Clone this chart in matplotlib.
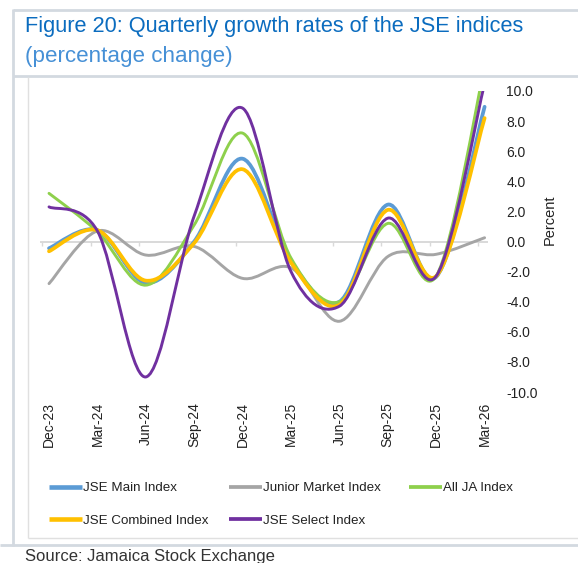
import numpy as np
import matplotlib
matplotlib.use("Agg")
import matplotlib.pyplot as plt
from matplotlib.path import Path
from matplotlib.patches import PathPatch
from matplotlib.lines import Line2D
import matplotlib.transforms as mtransforms

plt.rcParams['font.family'] = ['Liberation Sans', 'DejaVu Sans']
plt.rcParams['axes.unicode_minus'] = False

# ---------------- data ----------------
quarters = ["Dec-23", "Mar-24", "Jun-24", "Sep-24", "Dec-24",
            "Mar-25", "Jun-25", "Sep-25", "Dec-25", "Mar-26"]
jse_main = [-0.45, 0.75, -2.75, 0.0, 5.5, -1.3, -4.0, 2.45, -2.35, 8.95]
junior_market = [-2.8, 0.7, -0.9, -0.33, -2.45, -1.75, -5.3, -1.0, -0.85, 0.25]
all_ja = [3.2, 0.65, -2.9, 1.1, 7.2, -1.1, -4.0, 1.2, -2.3, 11.6]
jse_combined = [-0.65, 0.75, -2.6, -0.1, 4.8, -1.4, -4.2, 2.1, -2.3, 8.2]
jse_select = [2.3, 0.7, -9.0, 1.7, 8.86, -2.0, -4.3, 1.55, -2.3, 10.5]

series_names = ["JSE Main Index", "Junior Market Index", "All JA Index",
                "JSE Combined Index", "JSE Select Index"]
series_values = [jse_main, junior_market, all_ja, jse_combined, jse_select]
series_colors = ["#5b9bd5", "#a5a5a5", "#8ed04c", "#ffc000", "#7030a0"]
series_widths = [2.7, 2.1, 2.1, 2.7, 2.1]
y_ticks = [-10, -8, -6, -4, -2, 0, 2, 4, 6, 8, 10]

title = "Figure 20: Quarterly growth rates of the JSE indices"
subtitle = "(percentage change)"
source = "Source: Jamaica Stock Exchange"

# ---------------- figure ----------------
W, H = 578, 563
fig = plt.figure(figsize=(W / 100, H / 100), dpi=100)
fig.patch.set_facecolor("white")


def fx(px):
    return px / W


def fy(py):
    return 1 - py / H


def smooth_path(xs, ys, t=1.0 / 6.0):
    """Excel-like smoothed line: cubic Bezier through the data points."""
    pts = np.column_stack([xs, ys]).astype(float)
    n = len(pts)
    verts = [pts[0]]
    codes = [Path.MOVETO]
    for i in range(n - 1):
        p_prev = pts[i - 1] if i > 0 else pts[i]
        p0 = pts[i]
        p1 = pts[i + 1]
        p_next = pts[i + 2] if i + 2 < n else pts[i + 1]
        c1 = p0 + (p1 - p_prev) * t
        c2 = p1 - (p_next - p0) * t
        verts += [c1, c2, p1]
        codes += [Path.CURVE4] * 3
    return Path(verts, codes)


# axes: data x index i sits at pixel 49 + 48.4*i
ax = fig.add_axes([fx(41), fy(392), (487 - 41) / W, (392 - 91) / H])
ax.set_facecolor("none")
ax.set_xlim((41 - 49) / 48.4, (487 - 49) / 48.4)
ax.set_ylim(-10, 10)

x = np.arange(len(quarters))
handles = []
for name, vals, col, lw in zip(series_names, series_values, series_colors, series_widths):
    patch = PathPatch(smooth_path(x, vals), facecolor="none", edgecolor=col,
                      lw=lw, capstyle="round", joinstyle="round", zorder=3)
    ax.add_patch(patch)
    handles.append(Line2D([], [], color=col, lw=lw + 0.6, solid_capstyle="butt"))

for s in ["top", "left", "right"]:
    ax.spines[s].set_visible(False)
ax.spines["bottom"].set_position(("data", 0))
ax.spines["bottom"].set_color("#d9d9d9")
ax.spines["bottom"].set_linewidth(1.4)
ax.spines["bottom"].set_zorder(1)
ax.set_xticks(x - 0.135)
ax.set_xticklabels([])
ax.tick_params(axis="x", direction="out", length=3, width=1, color="#d9d9d9")

ax.yaxis.tick_right()
ax.set_yticks(y_ticks)
ax.set_yticklabels([f"{v:.1f}" for v in y_ticks])
ax.tick_params(axis="y", length=0, pad=14, labelsize=10, labelcolor="#222222")

# category labels
trans = mtransforms.blended_transform_factory(ax.transData, fig.transFigure)
for i, q in enumerate(quarters):
    ax.text(i, fy(402), q, transform=trans, rotation=90, ha="center", va="top",
            fontsize=10, color="#222222")

fig.text(fx(550), fy(219.5), "Percent", rotation=90, ha="center", va="center",
         fontsize=10.5, color="#222222")

# ---------------- legends ----------------
lfs = 9.6
common = dict(frameon=False, fontsize=lfs, handlelength=2.45, handletextpad=0.08,
              borderpad=0, borderaxespad=0, labelspacing=1.5)
order_cols = [[0, 3], [1, 4], [2]]
col_x = [49, 229, 409]
for cols, cx in zip(order_cols, col_x):
    leg = fig.legend([handles[k] for k in cols], [series_names[k] for k in cols],
                     loc="upper left", bbox_to_anchor=(fx(cx), fy(482)), **common)
    for t in leg.get_texts():
        t.set_color("#222222")

# ---------------- texts ----------------
renderer = fig.canvas.get_renderer()


def fit_text(txt, target_px):
    fs = txt.get_fontsize()
    for _ in range(4):
        w = txt.get_window_extent(renderer=renderer).width
        fs = fs * target_px / w
        txt.set_fontsize(fs)


t1 = fig.text(fx(25), fy(32), title, ha="left", va="baseline", fontsize=15,
              color="#0b6cbf")
fit_text(t1, 500)
t2 = fig.text(fx(25), fy(62), subtitle, ha="left", va="baseline", fontsize=14,
              color="#4690d6")
fit_text(t2, 207)
t3 = fig.text(fx(25), fy(561), source, ha="left", va="baseline", fontsize=12,
              color="#333333")
fit_text(t3, 250)

# ---------------- frame lines ----------------
outer = "#d3d9e0"
inner = "#e0e0e0"


def fline(xs, ys, color, lw):
    fig.add_artist(Line2D([fx(v) for v in xs], [fy(v) for v in ys],
                          transform=fig.transFigure, color=color, lw=lw,
                          solid_capstyle="butt"))


fline([13, 578], [10, 10], outer, 2.0)
fline([13, 13], [9, 546], outer, 2.0)
fline([13, 578], [75.5, 75.5], outer, 2.0)
fline([0, 578], [545, 545], outer, 2.0)
fline([28, 28], [77, 538], inner, 1.0)
fline([28, 578], [538, 538], inner, 1.0)

fig.savefig("out.png", dpi=100, facecolor="white")
